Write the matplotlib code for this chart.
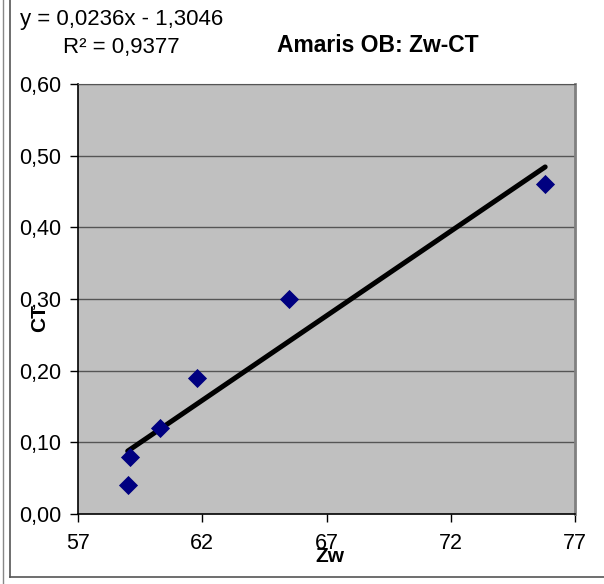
import matplotlib.pyplot as plt
import matplotlib.ticker as ticker
import numpy as np
from matplotlib.lines import Line2D

plt.rcParams['font.family'] = ['Liberation Sans', 'DejaVu Sans']

# data
zw = [59.0, 59.1, 60.3, 61.8, 65.5, 75.8]
ct = [0.04, 0.08, 0.12, 0.19, 0.30, 0.46]
slope = 0.0236
intercept = -1.3046
eq_text = "y = 0,0236x - 1,3046"
r2_text = "R² = 0,9377"
x_ticks = [57, 62, 67, 72, 77]
y_ticks = [0.0, 0.1, 0.2, 0.3, 0.4, 0.5, 0.6]

fig = plt.figure(figsize=(6.04, 5.84), dpi=100)
ax = fig.add_axes([78/604, 1-514/584, (575-78)/604, (514-84)/584])
ax.set_facecolor('#C0C0C0')

# horizontal gridlines only
for y in y_ticks[1:]:
    ax.axhline(y, color='#555555', lw=1, zorder=1)

# trendline over the data range
xl = np.array([min(zw), max(zw)])
ax.plot(xl, slope*xl + intercept, color='black', lw=3.6, zorder=2, solid_capstyle='round')

ax.scatter(zw, ct, marker='D', s=95, color='#000080', zorder=3, linewidths=0)

ax.set_xlim(57, 77)
ax.set_ylim(0, 0.6)
ax.set_xticks(x_ticks)
ax.set_yticks(y_ticks)
ax.yaxis.set_major_formatter(ticker.FuncFormatter(lambda v, p: f"{v:.2f}".replace('.', ',')))
ax.tick_params(direction='out', length=6, width=1, labelsize=15.5, colors='black', pad=6)
ax.tick_params(axis='x', pad=8)

for s in ['left', 'bottom']:
    ax.spines[s].set_color('black')
    ax.spines[s].set_linewidth(1.2)
ax.spines['right'].set_color('#808080')
ax.spines['right'].set_linewidth(2)
ax.spines['top'].set_color('#555555')

# axis titles, placed like the original (overlapping the tick labels)
fig.text(40/604, 1-318/584, 'CT', rotation=90, fontsize=15, fontweight='bold', ha='center', va='center')
fig.text(330/604, 1-557/584, 'Zw', fontsize=15, fontweight='bold', ha='center', va='center')

fig.text(378/604, 1-45/584, 'Amaris OB: Zw-CT', fontsize=16.5, fontweight='bold', ha='center', va='center')
fig.text(20/604, 1-20/584, eq_text, fontsize=16, ha='left', va='center')
fig.text(63/604, 1-48/584, r2_text, fontsize=16, ha='left', va='center')

# chart area border
fig.add_artist(Line2D([10/604, 10/604], [1-577/584, 1], color='#555555', lw=1.2))
fig.add_artist(Line2D([3/604, 3/604], [0, 1], color='#888888', lw=1))
fig.add_artist(Line2D([10/604, 1], [1-577/584, 1-577/584], color='#555555', lw=1.2))

fig.savefig('out.png', dpi=100)
